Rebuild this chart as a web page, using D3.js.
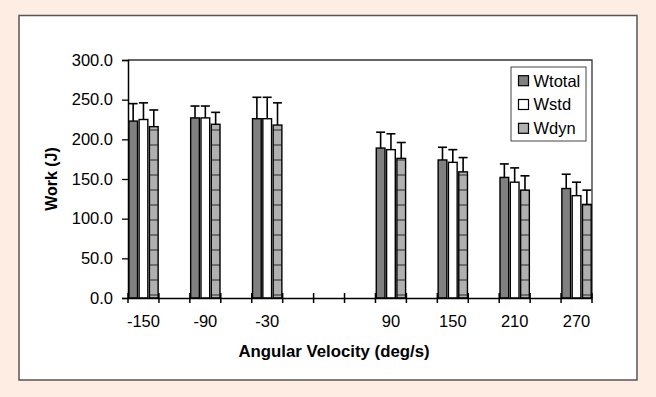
<!DOCTYPE html>
<html>
<head>
<meta charset="utf-8">
<script src="https://cdn.jsdelivr.net/npm/d3@7"></script>
<style>
  html, body { margin: 0; padding: 0; background: #fdede3; }
  svg { display: block; font-family: Arial, "Liberation Sans", sans-serif; }
</style>
</head>
<body>
<div id="chart"></div>
<script>
// Category slots on the x axis (every 30 deg/s), only some carry data.
const slots = [-150, -120, -90, -60, -30, 0, 30, 60, 90, 120, 150, 180, 210, 240, 270];
const angles = [-150, -90, -30, 90, 150, 210, 270];

// Mean work (J) and upper SD for each series.
const wtotal = [223, 227, 226, 189, 174, 152, 138];
const wtotalSd = [22, 15, 27, 20, 16, 17, 18];
const wstd = [225, 227, 226, 187, 171, 146, 129];
const wstdSd = [21, 15, 27, 20, 16, 18, 17];
const wdyn = [216, 219, 218, 176, 159, 136, 118];
const wdynSd = [21, 15, 28, 20, 18, 18, 18];

const yTicks = [0, 50, 100, 150, 200, 250, 300];
const seriesNames = ["Wtotal", "Wstd", "Wdyn"];

const width = 656, height = 397;
const plot = { left: 128, right: 592, top: 60, bottom: 298 };

const series = [
  { name: "Wtotal", values: wtotal, sd: wtotalSd, fill: "#808080" },
  { name: "Wstd", values: wstd, sd: wstdSd, fill: "#ffffff" },
  { name: "Wdyn", values: wdyn, sd: wdynSd, fill: "url(#dynPattern)" }
];

const svg = d3.select("#chart")
  .append("svg")
  .attr("width", width)
  .attr("height", height);

// Hatch used by the Wdyn bars: grey with dark horizontal lines.
const pattern = svg.append("defs")
  .append("pattern")
  .attr("id", "dynPattern")
  .attr("patternUnits", "userSpaceOnUse")
  .attr("width", 20)
  .attr("height", 15);
pattern.append("rect")
  .attr("width", 20)
  .attr("height", 15)
  .attr("fill", "#b0b0b0");
pattern.append("line")
  .attr("x1", 0).attr("x2", 20)
  .attr("y1", 10).attr("y2", 10)
  .attr("stroke", "#404040")
  .attr("stroke-width", 1.2);

// White panel with grey frame.
svg.append("rect")
  .attr("x", 19).attr("y", 15.5)
  .attr("width", 618).attr("height", 364.5)
  .attr("fill", "#fff")
  .attr("stroke", "#555")
  .attr("stroke-width", 1.5);

// Scales.
const xScale = d3.scaleBand()
  .domain(slots)
  .range([plot.left, plot.right]);

const xInner = d3.scaleBand()
  .domain(seriesNames)
  .range([0, xScale.bandwidth()]);

const yScale = d3.scaleLinear()
  .domain([0, 300])
  .range([plot.bottom, plot.top]);

// Plot frame (top and right edges).
svg.append("path")
  .attr("d", `M${plot.left},${plot.top}H${plot.right}V${plot.bottom}`)
  .attr("fill", "none")
  .attr("stroke", "#333")
  .attr("stroke-width", 1.3);

// Bars.
const barW = xInner.bandwidth() - 1.6;
series.forEach(s => {
  svg.append("g")
    .selectAll("rect")
    .data(angles)
    .enter()
    .append("rect")
    .attr("x", (d, i) => xScale(d) + xInner(s.name) + (xInner.bandwidth() - barW) / 2)
    .attr("y", (d, i) => yScale(s.values[i]))
    .attr("width", barW)
    .attr("height", (d, i) => plot.bottom - yScale(s.values[i]))
    .attr("fill", s.fill)
    .attr("stroke", "#000")
    .attr("stroke-width", 1.4);
});

// Upper error bars.
series.forEach(s => {
  const g = svg.append("g")
    .attr("stroke", "#000")
    .attr("stroke-width", 1.6);
  angles.forEach((a, i) => {
    const cx = xScale(a) + xInner(s.name) + xInner.bandwidth() / 2;
    const yTop = yScale(s.values[i] + s.sd[i]);
    g.append("line")
      .attr("x1", cx).attr("x2", cx)
      .attr("y1", yScale(s.values[i])).attr("y2", yTop);
    g.append("line")
      .attr("x1", cx - 4.5).attr("x2", cx + 4.5)
      .attr("y1", yTop).attr("y2", yTop);
  });
});

// Y axis.
const yAxis = d3.axisLeft(yScale)
  .tickValues(yTicks)
  .tickSize(6)
  .tickPadding(9)
  .tickFormat(d3.format(".1f"));
const yG = svg.append("g")
  .attr("transform", `translate(${plot.left},0)`)
  .call(yAxis);
yG.select(".domain").attr("stroke", "#000").attr("stroke-width", 1.5);
yG.selectAll(".tick line").attr("stroke", "#000").attr("stroke-width", 1.3);
yG.selectAll("text")
  .style("font-size", "16.5px")
  .attr("fill", "#000")
  .style("font-family", "Arial, 'Liberation Sans', sans-serif");

// X axis: labels at category centres, tick marks at category boundaries.
const xAxis = d3.axisBottom(xScale)
  .tickValues(angles)
  .tickSize(0)
  .tickPadding(17);
const xG = svg.append("g")
  .attr("transform", `translate(0,${plot.bottom})`)
  .call(xAxis);
xG.select(".domain").attr("stroke", "#000").attr("stroke-width", 1.5);
xG.selectAll("text")
  .style("font-size", "16.5px")
  .attr("fill", "#000")
  .style("font-family", "Arial, 'Liberation Sans', sans-serif");

const bounds = slots.map(d => xScale(d)).concat([plot.right]);
svg.append("g")
  .selectAll("line")
  .data(bounds)
  .enter()
  .append("line")
  .attr("x1", d => d).attr("x2", d => d)
  .attr("y1", plot.bottom - 5).attr("y2", plot.bottom + 5)
  .attr("stroke", "#000")
  .attr("stroke-width", 1.5);

// Axis titles.
svg.append("text")
  .attr("text-anchor", "middle")
  .attr("x", 334)
  .attr("y", 356.5)
  .style("font-size", "16.8px")
  .style("font-weight", "bold")
  .text("Angular Velocity (deg/s)");

svg.append("text")
  .attr("text-anchor", "middle")
  .attr("transform", `translate(56.5,${(plot.top + plot.bottom) / 2}) rotate(-90)`)
  .style("font-size", "16px")
  .style("font-weight", "bold")
  .text("Work (J)");

// Legend.
const legend = svg.append("g")
  .attr("transform", "translate(511,67)");
legend.append("rect")
  .attr("width", 75).attr("height", 74)
  .attr("fill", "#fff")
  .attr("stroke", "#444")
  .attr("stroke-width", 1);
series.forEach((s, i) => {
  const cy = 13.7 + i * 23.8;
  legend.append("rect")
    .attr("x", 7.5).attr("y", cy - 5)
    .attr("width", 10).attr("height", 10)
    .attr("fill", s.fill)
    .attr("stroke", "#000")
    .attr("stroke-width", 1.2);
  legend.append("text")
    .attr("x", 22.5)
    .attr("y", cy + 5.8)
    .style("font-size", "16.5px")
    .text(s.name);
});
</script>
</body>
</html>
